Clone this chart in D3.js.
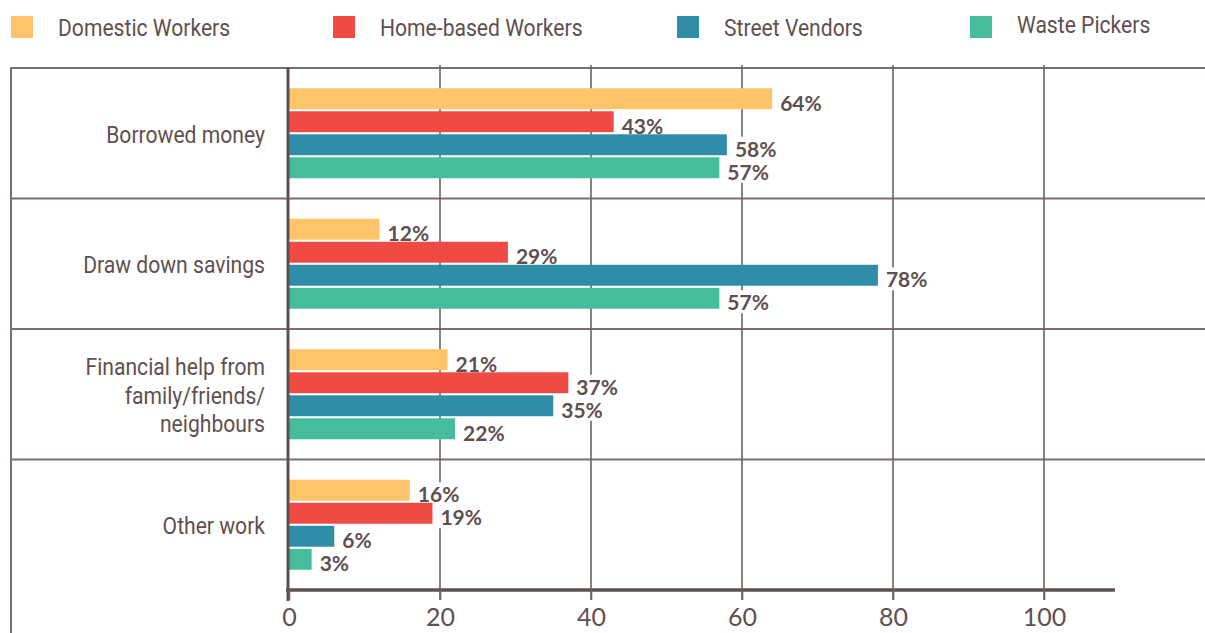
<!DOCTYPE html>
<html>
<head>
<meta charset="utf-8">
<script src="https://cdn.jsdelivr.net/npm/d3@7"></script>
<style>
  body { margin: 0; background: #fff; }
  svg { display: block; }
</style>
</head>
<body>
<svg width="1205" height="633"></svg>
<script>
// data
const categories = ["Borrowed money", "Draw down savings", "Financial help from\nfamily/friends/\nneighbours", "Other work"];
const series = ["Domestic Workers", "Home-based Workers", "Street Vendors", "Waste Pickers"];
const colors = ["#FDC46A", "#EF4A43", "#2F8DA8", "#45BC9C"];
const domestic = [64, 12, 21, 16];
const homeBased = [43, 29, 37, 19];
const streetVendors = [58, 78, 35, 6];
const wastePickers = [57, 57, 22, 3];
const xTicks = [0, 20, 40, 60, 80, 100];

const values = [domestic, homeBased, streetVendors, wastePickers];
const textColor = "#5e5050";
const lineColor = "#6e6262";
const squeeze = 0.88; // condensed look for Roboto

const svg = d3.select('svg');

const x = d3.scaleLinear().domain([0, 110]).range([289, 289 + 110 * 7.55]);
const y = d3.scaleBand().domain(categories).range([68, 590]);
const inner = d3.scaleBand().domain(series).range([0, 90]).paddingInner(0.09);

// legend
const legendX = [11, 333, 677, 970];
const legend = svg.append('g');
series.forEach((s, i) => {
  legend.append('rect')
    .attr('x', legendX[i]).attr('y', 16)
    .attr('width', 22).attr('height', 22)
    .attr('fill', colors[i]);
  legend.append('text')
    .attr('transform', `translate(${legendX[i] + 47},${i == 3 ? 33 : 36}) scale(${squeeze},1)`)
    .attr('fill', textColor)
    .style('font-family', 'Roboto')
    .style('font-size', '24px')
    .text(s);
});

// row lines + left border
const rowEdges = categories.map(c => y(c));
svg.selectAll('line.row')
  .data(rowEdges)
  .join('line')
  .attr('class', 'row')
  .attr('x1', 11).attr('x2', 1205)
  .attr('y1', d => d).attr('y2', d => d)
  .attr('stroke', '#7a6e6e')
  .attr('stroke-width', 2);

svg.append('line')
  .attr('x1', 11).attr('x2', 11)
  .attr('y1', 67).attr('y2', 633)
  .attr('stroke', '#7a6e6e')
  .attr('stroke-width', 2);

// gridlines
svg.selectAll('line.grid')
  .data(xTicks.slice(1))
  .join('line')
  .attr('class', 'grid')
  .attr('x1', d => x(d)).attr('x2', d => x(d))
  .attr('y1', 65).attr('y2', 600)
  .attr('stroke', lineColor)
  .attr('stroke-width', 1.6);

const groups = svg.selectAll('g.cat')
  .data(categories)
  .join('g')
  .attr('class', 'cat')
  .attr('transform', c => `translate(0,${y(c) + y.bandwidth() / 2 - 45})`);

// value labels with white boxes (boxes go under the bars)
groups.each(function(c, ci) {
  const g = d3.select(this);
  const boxes = g.append('g');
  const bars = g.append('g');
  const labels = g.append('g');
  series.forEach((s, si) => {
    const v = values[si][ci];
    bars.append('rect')
      .attr('x', x(0))
      .attr('y', inner(s))
      .attr('width', x(v) - x(0))
      .attr('height', inner.bandwidth())
      .attr('fill', colors[si]);
    const t = labels.append('text')
      .attr('x', x(v) + 8)
      .attr('y', inner(s) + inner.bandwidth() + 1.5)
      .attr('fill', textColor)
      .style('font-family', 'Lato')
      .style('font-weight', 'bold')
      .style('font-size', '21px')
      .text(v + '%');
    const bb = t.node().getBBox();
    boxes.append('rect')
      .attr('x', bb.x - 2).attr('y', bb.y + 1)
      .attr('width', bb.width + 4).attr('height', bb.height - 2)
      .attr('fill', '#fff');
  });
});

// category labels
svg.selectAll('g.lab')
  .data(categories)
  .join('g')
  .attr('class', 'lab')
  .attr('transform', c => `translate(265,${y(c) + y.bandwidth() / 2 + 1}) scale(${squeeze},1)`)
  .each(function(c) {
    const lines = c.split('\n');
    const t = d3.select(this).append('text')
      .attr('text-anchor', 'end')
      .attr('fill', textColor)
      .style('font-family', 'Roboto')
      .style('font-size', '24px');
    lines.forEach((l, i) => {
      t.append('tspan')
        .attr('x', 0)
        .attr('y', (i - (lines.length - 1) / 2) * 28.5)
        .attr('dy', '0.35em')
        .text(l);
    });
  });

// axes
svg.append('line')
  .attr('x1', x(0) - 1).attr('x2', x(0) - 1)
  .attr('y1', 67).attr('y2', 601)
  .attr('stroke', textColor)
  .attr('stroke-width', 3);

const xAxis = d3.axisBottom(x).tickValues(xTicks).tickSize(10).tickPadding(8);
const ax = svg.append('g')
  .attr('transform', 'translate(0,590)')
  .call(xAxis);
ax.select('.domain')
  .attr('d', `M${x(0) - 3},0H${x(109.4)}`)
  .attr('stroke', textColor)
  .attr('stroke-width', 3.5);
ax.selectAll('.tick line')
  .attr('y1', -2)
  .attr('stroke', lineColor)
  .attr('stroke-width', 1.6);
ax.selectAll('.tick text')
  .attr('fill', textColor)
  .style('font-family', 'Lato')
  .style('font-weight', 400)
  .style('font-size', '25px');
</script>
</body>
</html>
